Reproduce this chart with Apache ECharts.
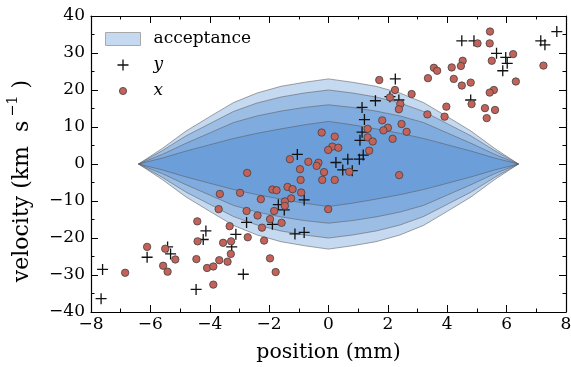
<!DOCTYPE html>
<html>
<head>
<meta charset="utf-8">
<script src="https://cdn.jsdelivr.net/npm/echarts@6/dist/echarts.min.js"></script>
<style>html,body{margin:0;padding:0;background:#fff}#c{width:571px;height:367px}</style>
</head>
<body>
<div id="c"></div>
<script>
// ---- data ----
const xTicks = [-8, -6, -4, -2, 0, 2, 4, 6, 8];
const yTicks = [-40, -30, -20, -10, 0, 10, 20, 30, 40];

// acceptance band sample positions and half-widths (km/s) for each nested layer
const accX = [-6.4, -5.6, -4.8, -4.0, -3.2, -2.4, -1.6, -0.8, 0, 0.8, 1.6, 2.4, 3.2, 4.0, 4.8, 5.6, 6.4];
const accLayer1 = [0, 4.2, 8.9, 12.8, 16.6, 19.2, 21.0, 22.1, 23.0, 22.1, 21.0, 19.2, 16.6, 12.8, 8.9, 4.2, 0];
const accLayer2 = [0, 3.6, 7.6, 10.9, 14.2, 16.5, 18.1, 19.2, 20.0, 19.2, 18.1, 16.5, 14.2, 10.9, 7.6, 3.6, 0];
const accLayer3 = [0, 2.6, 5.6, 8.4, 11.2, 13.0, 14.3, 15.3, 16.0, 15.3, 14.3, 13.0, 11.2, 8.4, 5.6, 2.6, 0];
const accLayer4 = [0, 1.6, 3.5, 5.2, 6.9, 8.3, 9.5, 10.6, 11.5, 10.6, 9.5, 8.3, 6.9, 5.2, 3.5, 1.6, 0];

// "y" series (plus markers): [position, velocity]
const yPoints = [
  [4.49, 33.3], [4.90, 33.3], [5.66, 29.9], [5.97, 28.8], [6.02, 27.2], [5.87, 25.2],
  [7.15, 33.3], [7.29, 32.2], [7.69, 35.8], [2.25, 23.0], [2.07, 18.2], [2.37, 17.3],
  [1.58, 17.1], [4.79, 17.3], [1.13, 15.3], [1.21, 12.0], [1.13, 8.6], [1.06, 6.4],
  [0.65, 1.3], [1.04, 1.3], [1.17, 2.4], [0.25, 0.4], [0.48, -1.6], [0.80, -1.8],
  [-1.05, 2.6], [-0.82, -9.7], [-1.69, -11.0], [-1.49, -12.4], [-2.76, -15.8], [-1.89, -16.3],
  [-1.13, -18.9], [-0.82, -18.5], [-4.13, -18.1], [-4.22, -20.4], [-3.12, -19.0], [-3.26, -22.4],
  [-5.42, -22.4], [-5.32, -24.3], [-6.11, -25.2], [-2.87, -29.8], [-4.46, -33.9], [-7.61, -28.5],
  [-7.66, -36.4]
];

// "x" series (circle markers): [position, velocity]
const xPoints = [
  [5.44, 35.8], [5.02, 32.6], [5.43, 32.6], [6.22, 29.7], [5.50, 27.9], [4.52, 27.9],
  [4.46, 26.5], [3.55, 26.0], [3.66, 25.2], [4.15, 26.1], [3.35, 23.2], [4.22, 23.0],
  [4.49, 21.2], [4.79, 22.0], [5.57, 20.0], [5.43, 19.3], [6.31, 22.3], [7.24, 26.6],
  [1.71, 22.7], [2.24, 20.0], [2.80, 18.9], [2.07, 18.0], [2.42, 16.2], [2.37, 14.8],
  [3.97, 15.5], [3.33, 13.4], [3.91, 12.8], [4.82, 16.2], [5.27, 15.1], [5.61, 14.6],
  [5.33, 12.4], [1.81, 11.8], [2.46, 10.8], [2.63, 8.7], [2.16, 6.8], [2.00, 9.8],
  [1.85, 9.1], [1.32, 9.5], [1.32, 7.2], [1.49, 6.1], [1.37, 3.6], [-0.23, 8.5],
  [0.21, 7.4], [0.13, 4.7], [0.33, 4.4], [-0.01, 3.8],
  [0.70, -2.1], [-0.15, -2.2], [-0.21, -4.3], [0.21, -4.3], [2.38, -3.0], [-0.01, -12.2],
  [-1.30, 1.3], [-0.68, 0.6], [-0.34, 0.35], [-0.40, -0.5], [-0.96, -1.4], [-2.74, -2.4],
  [-0.94, -4.3], [-2.98, -7.8], [-1.89, -6.9], [-1.75, -7.1], [-1.38, -6.2], [-1.21, -6.8],
  [-0.92, -7.7], [-1.26, -9.3], [-2.28, -9.5], [-1.47, -10.1], [-1.47, -11.3], [-1.83, -12.7],
  [-2.76, -12.7], [-2.39, -13.9], [-1.97, -14.9],
  [-3.66, -8.1], [-3.70, -12.2], [-1.58, -15.9], [-4.42, -15.5], [-3.33, -16.8], [-2.24, -17.2],
  [-2.72, -19.8], [-4.41, -20.9], [-3.55, -21.3], [-3.28, -20.9], [-2.17, -20.7], [-6.11, -22.4],
  [-5.50, -22.9], [-5.16, -25.8], [-4.45, -25.7], [-3.29, -24.3], [-3.68, -26.0], [-3.40, -26.4],
  [-1.97, -25.5], [-5.57, -27.5], [-5.42, -29.1], [-4.09, -28.1], [-3.88, -27.7], [-1.78, -29.2],
  [-6.85, -29.4], [-3.88, -32.6]
];

// ---- chart ----
const accLayers = [accLayer1, accLayer2, accLayer3, accLayer4];
const FONT = 'DejaVu Serif';
const fmt = v => (v < 0 ? '\u2212' : '') + Math.abs(v);
const plusPath = 'path://M4.85,0H6.15V4.85H11V6.15H6.15V11H4.85V6.15H0V4.85H4.85Z';

const tickCommon = {
  axisLine: { show: true, onZero: false, lineStyle: { color: '#000', width: 1.2 } },
  axisTick: { show: true, inside: true, length: 7, lineStyle: { color: '#000', width: 1 } },
  minorTick: { show: true, splitNumber: 2, length: 3.5, lineStyle: { color: '#000', width: 1 } },
  splitLine: { show: false }
};

const chart = echarts.init(document.getElementById('c'), null, { renderer: 'canvas' });
chart.setOption({
  animation: false,
  backgroundColor: '#fff',
  grid: { left: 91, right: 5, top: 16, bottom: 55, containLabel: false, outerBoundsMode: 'none' },
  legend: {
    orient: 'vertical', left: 105, top: 30, padding: 0,
    itemWidth: 43, itemHeight: 13, itemGap: 8,
    selectedMode: false,
    textStyle: {
      fontFamily: FONT, fontSize: 17, color: '#000', lineHeight: 18,
      rich: { i: { fontFamily: FONT, fontStyle: 'italic', fontSize: 17, lineHeight: 18 } }
    },
    formatter: n => (n === 'acceptance' ? n : '{i|' + n + '}'),
    data: [
      { name: 'acceptance', icon: 'path://M0,0H35V13H0Z M43,13',
        itemStyle: { color: '#c5d9f0', borderColor: '#a8a8a8', borderWidth: 1 } },
      { name: 'y', icon: 'path://M0,0 M43,13 M16.85,1H18.15V5.85H23V7.15H18.15V12H16.85V7.15H12V5.85H16.85Z',
        itemStyle: { color: '#111', borderWidth: 0 } },
      { name: 'x', icon: 'path://M0,0 M43,13 M21.1,6.5A3.6,3.6 0 1 1 13.9,6.5A3.6,3.6 0 1 1 21.1,6.5Z',
        itemStyle: { color: '#c4625a', borderColor: '#404040', borderWidth: 0.8 } }
    ]
  },
  xAxis: [
    Object.assign({
      type: 'value', min: xTicks[0], max: xTicks[xTicks.length - 1], interval: 2,
      position: 'bottom',
      name: 'position (mm)', nameLocation: 'middle', nameGap: 30,
      nameTextStyle: { fontFamily: FONT, fontSize: 20.5, color: '#000' },
      axisLabel: { formatter: fmt, fontFamily: FONT, fontSize: 17, color: '#000', margin: 4 }
    }, tickCommon),
    Object.assign({
      type: 'value', min: xTicks[0], max: xTicks[xTicks.length - 1], interval: 2,
      position: 'top', axisLabel: { show: false }
    }, tickCommon)
  ],
  yAxis: [
    Object.assign({
      type: 'value', min: yTicks[0], max: yTicks[yTicks.length - 1], interval: 10,
      position: 'left',
      name: 'velocity (km  s{sup|\u22121})', nameLocation: 'middle', nameGap: 53, nameRotate: 90,
      nameTextStyle: {
        fontFamily: FONT, fontSize: 22, color: '#000', padding: [0, 34, 0, 0],
        rich: { sup: { fontFamily: FONT, fontSize: 14.5, padding: [0, 7, 17, 4] } }
      },
      axisLabel: { formatter: fmt, fontFamily: FONT, fontSize: 17, color: '#000', margin: 6 }
    }, tickCommon),
    Object.assign({
      type: 'value', min: yTicks[0], max: yTicks[yTicks.length - 1], interval: 10,
      position: 'right', axisLabel: { show: false }
    }, tickCommon)
  ],
  series: [
    {
      name: 'acceptance', type: 'custom', xAxisIndex: 0, yAxisIndex: 0,
      data: accLayers.map((_, i) => [i, 0]),
      renderItem: (params, api) => {
        const layer = accLayers[params.dataIndex];
        const pts = [];
        for (let k = 0; k < accX.length; k++) pts.push(api.coord([accX[k], layer[k]]));
        for (let k = accX.length - 1; k >= 0; k--) pts.push(api.coord([accX[k], -layer[k]]));
        return {
          type: 'polygon', shape: { points: pts },
          style: { fill: 'rgba(62,128,205,0.3)', stroke: 'rgba(90,90,90,0.55)', lineWidth: 1 }
        };
      },
      z: 1
    },
    {
      name: 'y', type: 'scatter', data: yPoints,
      symbol: plusPath, symbolSize: 11,
      itemStyle: { color: '#111', opacity: 1 }, z: 2
    },
    {
      name: 'x', type: 'scatter', data: xPoints,
      symbol: 'circle', symbolSize: 7.4,
      itemStyle: { color: '#c4625a', borderColor: '#404040', borderWidth: 0.8, opacity: 1 }, z: 3
    }
  ]
});
</script>
</body>
</html>
